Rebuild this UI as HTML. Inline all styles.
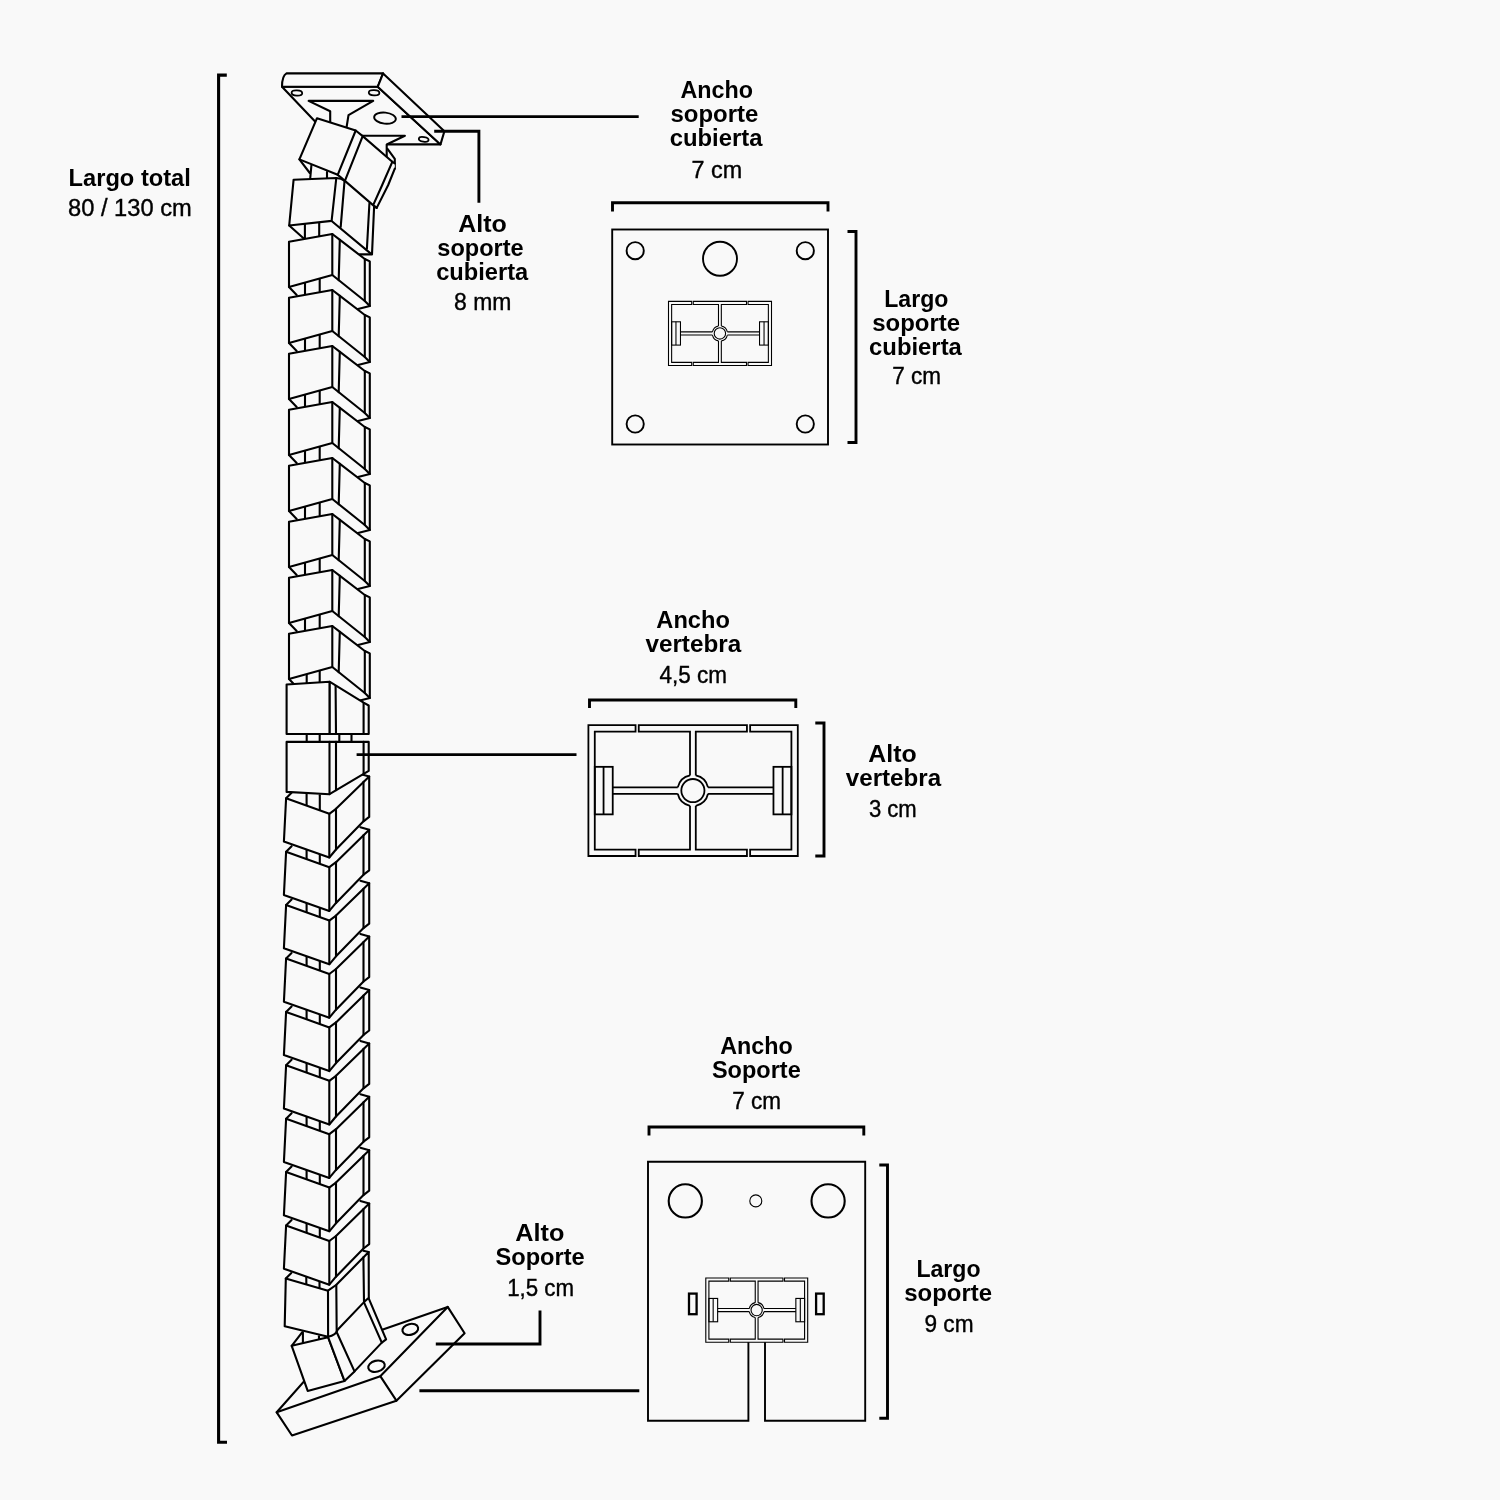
<!DOCTYPE html>
<html lang="es">
<head>
<meta charset="utf-8">
<title>Medidas organizador de cables</title>
<style>
html,body{margin:0;padding:0;background:#f9f9f9;}
body{width:1500px;height:1500px;overflow:hidden;font-family:"Liberation Sans",Arial,Helvetica,sans-serif;}
svg{display:block;position:absolute;left:0;top:0;}
#labels{filter:grayscale(1);}
</style>
</head>
<body>
<svg width="1500" height="1500" viewBox="0 0 1500 1500">
<rect width="1500" height="1500" fill="#f9f9f9"/>
<g id="chain" fill="none" stroke="#000" stroke-width="2.1" stroke-linejoin="round" stroke-linecap="round">
<g id="topplate">
<polygon points="282,86.8 377.7,86.8 440.5,144.4 337,144.4" fill="#f9f9f9"/>
<path d="M286.5,73.4 H383.1 L377.7,86.8 H282 C282,80 283.2,75.2 286.5,73.4 Z" fill="#f9f9f9"/>
<polygon points="383.1,73.4 444.4,131.2 440.5,144.4 377.7,86.8" fill="#f9f9f9"/>
<ellipse cx="296.9" cy="93" rx="5.3" ry="2.6" fill="#f9f9f9" stroke-width="1.8" transform="rotate(3 296.9 93)"/>
<ellipse cx="374.1" cy="92.8" rx="5.3" ry="2.6" fill="#f9f9f9" stroke-width="1.8" transform="rotate(3 374.1 92.8)"/>
<ellipse cx="385" cy="118.1" rx="10.9" ry="5.5" fill="#f9f9f9" stroke-width="1.9" transform="rotate(6 385 118.1)"/>
<ellipse cx="423.7" cy="139.3" rx="4.9" ry="2.3" fill="#f9f9f9" stroke-width="1.8" transform="rotate(9 423.7 139.3)"/>
<polyline points="330.2,122 330.2,111.3 308.6,100.9 373.2,100.9 348.5,115.1 346.6,127"/>
<polygon points="355,135.8 404.9,135.8 386.7,144.5 386.7,150 394.8,158.8 394.8,170 370,160" fill="#f9f9f9" stroke="none"/>
<polyline points="355,135.8 404.9,135.8 386.7,144.5 386.7,156.3"/>
<polyline points="387.5,148.9 394.8,158.8 394.8,168.6"/>
</g>
<g id="ta">
<polyline points="299.4,159.4 309.8,173"/>
<polyline points="311.4,165.4 310.2,178.5"/>
<polyline points="327,172 327,178"/>
<polygon points="355.7,130.5 362.7,136.1 392.3,161.8 394.8,163.3 394.8,168.6 388.2,185 376.7,207.9 344.9,180.9 337.7,174.8" fill="#f9f9f9" stroke="none"/>
<polyline points="355.7,130.5 362.7,136.1 392.3,161.8 394.8,163.3"/>
<polyline points="394.8,168.6 388.2,185 376.7,207.9 373.9,205.9"/>
<polyline points="392.3,161.8 382.2,185 373.4,204.6"/>
<polyline points="362.7,136.1 344.9,180.9"/>
<polygon points="317,118.2 355.7,130.5 337.7,174.8 299.4,159.4" fill="#f9f9f9"/>
</g>
<g id="tb">
<polyline points="289.2,225.5 303.5,238.3"/>
<polyline points="304.9,224.4 304.9,238"/>
<polyline points="319.2,222.2 319.2,236"/>
<polygon points="336.3,178 344.9,180.9 373.9,205.9 374.1,206.8 372,254.4 331.6,221" fill="#f9f9f9" stroke="none"/>
<path d="M337.7,174.8 Q341.5,177.6 344.9,180.9" fill="none"/>
<path d="M336.3,178 Q341,178 344.9,180.9 L373.9,205.9 L376.7,207.9" fill="none"/>
<polyline points="374.1,206.8 372,254.4 359.9,254.4"/>
<polyline points="369.4,203.5 366.9,248.8"/>
<polyline points="331.6,221 371.1,253.9"/>
<polyline points="344.5,181.3 340.7,226.9"/>
<polygon points="293.6,179.7 336.3,178 331.6,220.9 289.2,225.5" fill="#f9f9f9"/>
</g>
<g id="u0">
<polyline points="289,287 296.7,295"/>
<polyline points="305,283 305,294.7"/>
<polyline points="319.7,279 319.7,291.3"/>
<polygon points="332.3,234 364.8,259 369.8,261.4 369.8,306 332.3,275" fill="#f9f9f9" stroke="none"/>
<polyline points="332.3,234 339.6,239.7 364.8,259 369.8,261.4 369.8,306 358,309"/>
<polyline points="332.3,275 364.8,301 369.8,306"/>
<polyline points="364.8,259 364.8,301"/>
<polyline points="339.8,239.9 338.7,280.3"/>
<polygon points="289,241.7 332.3,234 332.3,275 289,287" fill="#f9f9f9"/>
</g>
<g id="u1">
<polyline points="289,343 296.7,351"/>
<polyline points="305,339 305,350.7"/>
<polyline points="319.7,335 319.7,347.3"/>
<polygon points="332.3,290 364.8,315 369.8,317.4 369.8,362 332.3,331" fill="#f9f9f9" stroke="none"/>
<polyline points="332.3,290 339.6,295.7 364.8,315 369.8,317.4 369.8,362 358,365"/>
<polyline points="332.3,331 364.8,357 369.8,362"/>
<polyline points="364.8,315 364.8,357"/>
<polyline points="339.8,295.9 338.7,336.3"/>
<polygon points="289,297.7 332.3,290 332.3,331 289,343" fill="#f9f9f9"/>
</g>
<g id="u2">
<polyline points="289,399 296.7,407"/>
<polyline points="305,395 305,406.7"/>
<polyline points="319.7,391 319.7,403.3"/>
<polygon points="332.3,346 364.8,371 369.8,373.4 369.8,418 332.3,387" fill="#f9f9f9" stroke="none"/>
<polyline points="332.3,346 339.6,351.7 364.8,371 369.8,373.4 369.8,418 358,421"/>
<polyline points="332.3,387 364.8,413 369.8,418"/>
<polyline points="364.8,371 364.8,413"/>
<polyline points="339.8,351.9 338.7,392.3"/>
<polygon points="289,353.7 332.3,346 332.3,387 289,399" fill="#f9f9f9"/>
</g>
<g id="u3">
<polyline points="289,455 296.7,463"/>
<polyline points="305,451 305,462.7"/>
<polyline points="319.7,447 319.7,459.3"/>
<polygon points="332.3,402 364.8,427 369.8,429.4 369.8,474 332.3,443" fill="#f9f9f9" stroke="none"/>
<polyline points="332.3,402 339.6,407.7 364.8,427 369.8,429.4 369.8,474 358,477"/>
<polyline points="332.3,443 364.8,469 369.8,474"/>
<polyline points="364.8,427 364.8,469"/>
<polyline points="339.8,407.9 338.7,448.3"/>
<polygon points="289,409.7 332.3,402 332.3,443 289,455" fill="#f9f9f9"/>
</g>
<g id="u4">
<polyline points="289,511 296.7,519"/>
<polyline points="305,507 305,518.7"/>
<polyline points="319.7,503 319.7,515.3"/>
<polygon points="332.3,458 364.8,483 369.8,485.4 369.8,530 332.3,499" fill="#f9f9f9" stroke="none"/>
<polyline points="332.3,458 339.6,463.7 364.8,483 369.8,485.4 369.8,530 358,533"/>
<polyline points="332.3,499 364.8,525 369.8,530"/>
<polyline points="364.8,483 364.8,525"/>
<polyline points="339.8,463.9 338.7,504.3"/>
<polygon points="289,465.7 332.3,458 332.3,499 289,511" fill="#f9f9f9"/>
</g>
<g id="u5">
<polyline points="289,567 296.7,575"/>
<polyline points="305,563 305,574.7"/>
<polyline points="319.7,559 319.7,571.3"/>
<polygon points="332.3,514 364.8,539 369.8,541.4 369.8,586 332.3,555" fill="#f9f9f9" stroke="none"/>
<polyline points="332.3,514 339.6,519.7 364.8,539 369.8,541.4 369.8,586 358,589"/>
<polyline points="332.3,555 364.8,581 369.8,586"/>
<polyline points="364.8,539 364.8,581"/>
<polyline points="339.8,519.9 338.7,560.3"/>
<polygon points="289,521.7 332.3,514 332.3,555 289,567" fill="#f9f9f9"/>
</g>
<g id="u6">
<polyline points="289,623 296.7,631"/>
<polyline points="305,619 305,630.7"/>
<polyline points="319.7,615 319.7,627.3"/>
<polygon points="332.3,570 364.8,595 369.8,597.4 369.8,642 332.3,611" fill="#f9f9f9" stroke="none"/>
<polyline points="332.3,570 339.6,575.7 364.8,595 369.8,597.4 369.8,642 358,645"/>
<polyline points="332.3,611 364.8,637 369.8,642"/>
<polyline points="364.8,595 364.8,637"/>
<polyline points="339.8,575.9 338.7,616.3"/>
<polygon points="289,577.7 332.3,570 332.3,611 289,623" fill="#f9f9f9"/>
</g>
<g id="u7">
<polyline points="289,679 296.7,687"/>
<polyline points="306.7,674.5 306.7,686.7"/>
<polyline points="319.7,671 319.7,683.3"/>
<polygon points="332.3,626 364.8,651 369.8,653.4 369.8,698 332.3,667" fill="#f9f9f9" stroke="none"/>
<polyline points="332.3,626 339.6,631.7 364.8,651 369.8,653.4 369.8,698 358,701"/>
<polyline points="332.3,667 364.8,693 369.8,698"/>
<polyline points="364.8,651 364.8,693"/>
<polyline points="339.8,631.9 338.7,672.3"/>
<polygon points="289,633.7 332.3,626 332.3,667 289,679" fill="#f9f9f9"/>
</g>
<g id="t1">
<polygon points="329.5,681.7 363.6,702.7 368.7,705.5 368.7,734 329.5,734" fill="#f9f9f9"/>
<polyline points="363.6,702.7 363.6,734"/>
<polyline points="335.6,686 336,734"/>
<polygon points="286.6,684.5 329.5,681.7 329.5,734 286.6,734" fill="#f9f9f9"/>
<polyline points="306.7,734 306.7,742"/>
<polyline points="319.7,734 319.7,742"/>
<polyline points="339.3,734 339.3,742"/>
<polyline points="351.5,734 351.5,742"/>
</g>
<g id="base" stroke-width="2.1">
<polygon points="276.7,1412.3 335.3,1346.1 447.7,1306.9 464.6,1333.3 396.4,1400.7 292,1435.5" fill="#f9f9f9"/>
<polyline points="276.7,1412.3 380.3,1376.2 447.7,1306.9"/>
<polyline points="380.3,1376.2 396.4,1400.7"/>
<ellipse cx="410.3" cy="1329.4" rx="8" ry="5.4" fill="#f9f9f9" transform="rotate(-14 410.3 1329.4)"/>
<ellipse cx="376.5" cy="1366.2" rx="8.4" ry="5.5" fill="#f9f9f9" transform="rotate(-14 376.5 1366.2)"/>
</g>
<g id="b">
<polygon points="291.7,1345.8 302.1,1332.4 340,1322 328.1,1337.2" fill="#f9f9f9" stroke="none"/>
<polyline points="291.7,1345.8 302.1,1332.4"/>
<polyline points="302.9,1332.4 302.9,1343.2"/>
<polyline points="319,1336.3 319,1339.5"/>
<polygon points="337.2,1333.3 364,1302.5 368.4,1299 386.1,1339.3 381.8,1342.6 354.5,1371.4" fill="#f9f9f9" stroke="none"/>
<polyline points="368.6,1298.2 386.1,1339.3 381.8,1342.6 354.5,1371.4"/>
<polyline points="364,1302.3 381.8,1342.6"/>
<polygon points="291.7,1345.8 328.1,1337.2 344.5,1380.9 307.7,1390.9" fill="#f9f9f9"/>
<polygon points="328.1,1337.2 337.2,1333.3 354.5,1371.4 344.5,1380.9" fill="#f9f9f9" stroke="none"/>
<polyline points="328.1,1337.2 344.5,1380.9 354.5,1371.4 337.2,1333.3"/>
</g>
<g id="l9">
<polygon points="285.8,1278.5 291.3,1273 329.2,1280.5 363.3,1250.7 368.7,1252 336.1,1285 328,1290.7" fill="#f9f9f9" stroke="none"/>
<polyline points="285.8,1278.5 291.3,1273"/>
<polyline points="363.3,1250.7 368.7,1252"/>
<polyline points="306.3,1272.5 306.3,1284.5"/>
<polyline points="319.5,1275.5 319.5,1288.3"/>
<polygon points="285.8,1278.5 328,1290.7 336.1,1285 368.7,1252 368.8,1297.7 364,1302.1 337.6,1329.8 335.8,1335.1 328.1,1336.7 284.7,1326.3" fill="#f9f9f9" stroke="none"/>
<path d="M285.8,1278.5 L328,1290.7 L336.1,1285 L368.7,1252 L368.8,1297.7 L364,1302.1 L337.6,1329.8 Q335.8,1335.1 328.1,1336.7 L284.7,1326.3 Z" fill="none"/>
<polyline points="328,1290.7 328.1,1336.7"/>
<polyline points="336.3,1285 336.7,1333"/>
<polyline points="363.4,1257.3 364,1302.1"/>
</g>
<g id="l8">
<polygon points="286.1,1225.5 291.6,1220 329.5,1227.5 360.4,1201.1 369.2,1203.6 336,1236 329.3,1241" fill="#f9f9f9" stroke="none"/>
<polyline points="286.1,1225.5 291.6,1220"/>
<polyline points="360.4,1201.1 369.2,1203.6"/>
<polyline points="306.6,1219.5 306.6,1232.9"/>
<polyline points="319.8,1222.5 319.8,1237.7"/>
<polygon points="286.1,1225.5 329.3,1241 336,1236 369.2,1203.6 369.2,1244.1 363.5,1248.5 336,1276.7 329.3,1284.7 283.9,1268.7" fill="#f9f9f9"/>
<polyline points="329.3,1241 329.3,1284.7"/>
<polyline points="336,1236 336,1276.7"/>
<polyline points="363.5,1209.1 363.5,1248.5"/>
</g>
<g id="l7">
<polygon points="286.1,1172.1 291.6,1166.6 329.5,1174.1 360.4,1147.7 369.2,1150.2 336,1182.6 329.3,1187.6" fill="#f9f9f9" stroke="none"/>
<polyline points="286.1,1172.1 291.6,1166.6"/>
<polyline points="360.4,1147.7 369.2,1150.2"/>
<polyline points="306.6,1166.1 306.6,1179.5"/>
<polyline points="319.8,1169.1 319.8,1184.3"/>
<polygon points="286.1,1172.1 329.3,1187.6 336,1182.6 369.2,1150.2 369.2,1190.7 363.5,1195.1 336,1223.3 329.3,1231.3 283.9,1215.3" fill="#f9f9f9"/>
<polyline points="329.3,1187.6 329.3,1231.3"/>
<polyline points="336,1182.6 336,1223.3"/>
<polyline points="363.5,1155.7 363.5,1195.1"/>
</g>
<g id="l6">
<polygon points="286.1,1118.7 291.6,1113.2 329.5,1120.7 360.4,1094.3 369.2,1096.8 336,1129.2 329.3,1134.2" fill="#f9f9f9" stroke="none"/>
<polyline points="286.1,1118.7 291.6,1113.2"/>
<polyline points="360.4,1094.3 369.2,1096.8"/>
<polyline points="306.6,1112.7 306.6,1126.1"/>
<polyline points="319.8,1115.7 319.8,1130.9"/>
<polygon points="286.1,1118.7 329.3,1134.2 336,1129.2 369.2,1096.8 369.2,1137.3 363.5,1141.7 336,1169.9 329.3,1177.9 283.9,1161.9" fill="#f9f9f9"/>
<polyline points="329.3,1134.2 329.3,1177.9"/>
<polyline points="336,1129.2 336,1169.9"/>
<polyline points="363.5,1102.3 363.5,1141.7"/>
</g>
<g id="l5">
<polygon points="286.1,1065.3 291.6,1059.8 329.5,1067.3 360.4,1040.9 369.2,1043.4 336,1075.8 329.3,1080.8" fill="#f9f9f9" stroke="none"/>
<polyline points="286.1,1065.3 291.6,1059.8"/>
<polyline points="360.4,1040.9 369.2,1043.4"/>
<polyline points="306.6,1059.3 306.6,1072.7"/>
<polyline points="319.8,1062.3 319.8,1077.5"/>
<polygon points="286.1,1065.3 329.3,1080.8 336,1075.8 369.2,1043.4 369.2,1083.9 363.5,1088.3 336,1116.5 329.3,1124.5 283.9,1108.5" fill="#f9f9f9"/>
<polyline points="329.3,1080.8 329.3,1124.5"/>
<polyline points="336,1075.8 336,1116.5"/>
<polyline points="363.5,1048.9 363.5,1088.3"/>
</g>
<g id="l4">
<polygon points="286.1,1011.9 291.6,1006.4 329.5,1013.9 360.4,987.5 369.2,990 336,1022.4 329.3,1027.4" fill="#f9f9f9" stroke="none"/>
<polyline points="286.1,1011.9 291.6,1006.4"/>
<polyline points="360.4,987.5 369.2,990"/>
<polyline points="306.6,1005.9 306.6,1019.3"/>
<polyline points="319.8,1008.9 319.8,1024.1"/>
<polygon points="286.1,1011.9 329.3,1027.4 336,1022.4 369.2,990 369.2,1030.5 363.5,1034.9 336,1063.1 329.3,1071.1 283.9,1055.1" fill="#f9f9f9"/>
<polyline points="329.3,1027.4 329.3,1071.1"/>
<polyline points="336,1022.4 336,1063.1"/>
<polyline points="363.5,995.5 363.5,1034.9"/>
</g>
<g id="l3">
<polygon points="286.1,958.5 291.6,953 329.5,960.5 360.4,934.1 369.2,936.6 336,969 329.3,974" fill="#f9f9f9" stroke="none"/>
<polyline points="286.1,958.5 291.6,953"/>
<polyline points="360.4,934.1 369.2,936.6"/>
<polyline points="306.6,952.5 306.6,965.9"/>
<polyline points="319.8,955.5 319.8,970.7"/>
<polygon points="286.1,958.5 329.3,974 336,969 369.2,936.6 369.2,977.1 363.5,981.5 336,1009.7 329.3,1017.7 283.9,1001.7" fill="#f9f9f9"/>
<polyline points="329.3,974 329.3,1017.7"/>
<polyline points="336,969 336,1009.7"/>
<polyline points="363.5,942.1 363.5,981.5"/>
</g>
<g id="l2">
<polygon points="286.1,905.1 291.6,899.6 329.5,907.1 360.4,880.7 369.2,883.2 336,915.6 329.3,920.6" fill="#f9f9f9" stroke="none"/>
<polyline points="286.1,905.1 291.6,899.6"/>
<polyline points="360.4,880.7 369.2,883.2"/>
<polyline points="306.6,899.1 306.6,912.5"/>
<polyline points="319.8,902.1 319.8,917.3"/>
<polygon points="286.1,905.1 329.3,920.6 336,915.6 369.2,883.2 369.2,923.7 363.5,928.1 336,956.3 329.3,964.3 283.9,948.3" fill="#f9f9f9"/>
<polyline points="329.3,920.6 329.3,964.3"/>
<polyline points="336,915.6 336,956.3"/>
<polyline points="363.5,888.7 363.5,928.1"/>
</g>
<g id="l1">
<polygon points="286.1,851.7 291.6,846.2 329.5,853.7 360.4,827.3 369.2,829.8 336,862.2 329.3,867.2" fill="#f9f9f9" stroke="none"/>
<polyline points="286.1,851.7 291.6,846.2"/>
<polyline points="360.4,827.3 369.2,829.8"/>
<polyline points="306.6,845.7 306.6,859.1"/>
<polyline points="319.8,848.7 319.8,863.9"/>
<polygon points="286.1,851.7 329.3,867.2 336,862.2 369.2,829.8 369.2,870.3 363.5,874.7 336,902.9 329.3,910.9 283.9,894.9" fill="#f9f9f9"/>
<polyline points="329.3,867.2 329.3,910.9"/>
<polyline points="336,862.2 336,902.9"/>
<polyline points="363.5,835.3 363.5,874.7"/>
</g>
<g id="l0">
<polygon points="286.1,798.3 291.6,792.8 329.5,800.3 360.4,773.9 369.2,776.4 336,808.8 329.3,813.8" fill="#f9f9f9" stroke="none"/>
<polyline points="286.1,798.3 291.6,792.8"/>
<polyline points="360.4,773.9 369.2,776.4"/>
<polyline points="306.6,792.3 306.6,805.7"/>
<polyline points="319.8,795.3 319.8,810.5"/>
<polygon points="286.1,798.3 329.3,813.8 336,808.8 369.2,776.4 369.2,816.9 363.5,821.3 336,849.5 329.3,857.5 283.9,841.5" fill="#f9f9f9"/>
<polyline points="329.3,813.8 329.3,857.5"/>
<polyline points="336,808.8 336,849.5"/>
<polyline points="363.5,781.9 363.5,821.3"/>
</g>
<g id="t2">
<polygon points="286.6,741.9 368.7,741.9 368.7,770.9 329.5,794.2 286.6,791.9" fill="#f9f9f9"/>
<polyline points="329.5,741.9 329.5,794.2"/>
<polyline points="336,741.9 336,790.3"/>
<polyline points="363.6,741.9 363.6,774"/>
</g>
</g>
<g id="dims" fill="none" stroke="#000" stroke-width="2.9">
<path d="M226.8,75.1 H218.6 V1442.3 H227" fill="none" stroke-width="3.1"/>
<path d="M401.5,116.6 H638.7" fill="none"/>
<path d="M434.2,131.3 H478.9 V202.7" fill="none"/>
<path d="M612.5,211.5 V202.8 H828 V211.5" fill="none"/>
<path d="M847.5,231.5 H856 V442.5 H847.5" fill="none"/>
<path d="M356.6,754.6 H576.5" fill="none"/>
<path d="M589.5,708 V700 H795.8 V708" fill="none"/>
<path d="M815.3,723 H824 V856 H815.3" fill="none"/>
<path d="M435.8,1344 H540 V1310.4" fill="none"/>
<path d="M419.4,1390.8 H639.3" fill="none"/>
<path d="M649,1135.5 V1127 H863.8 V1135.5" fill="none"/>
<path d="M879.3,1165 H887.5 V1418.2 H879.3" fill="none"/>
</g>
<g id="details" fill="none" stroke="#000" stroke-width="1.9">
<rect x="612.2" y="229.5" width="215.8" height="215"/>
<circle cx="635.2" cy="250.7" r="8.6"/>
<circle cx="805.3" cy="250.7" r="8.6"/>
<circle cx="635.2" cy="424" r="8.6"/>
<circle cx="805.3" cy="424" r="8.6"/>
<circle cx="720" cy="258.7" r="17"/>
<path d="M648,1161.8 H865.2 V1420.8 H765 V1342 M748.4,1342 V1420.8 H648 V1160.85"/>
<circle cx="685.3" cy="1200.9" r="16.6" stroke-width="2.1"/>
<circle cx="828.1" cy="1200.9" r="16.6" stroke-width="2.1"/>
<circle cx="755.8" cy="1200.9" r="6" stroke-width="1.1"/>
<rect x="689" y="1293.6" width="7.6" height="20.6" stroke-width="2.3"/>
<rect x="816.1" y="1293.6" width="7.6" height="20.6" stroke-width="2.3"/>
</g>
<g transform="translate(588.4 725.2) scale(0.9971 0.9985)" fill="none" stroke="#000" stroke-width="1.8" stroke-linejoin="miter">
<rect x="0" y="0" width="210" height="131" fill="#f9f9f9" stroke="none"/>
<path d="M47.3,0 H0 V131 H47.3 V124.6 H6.4 V6.4 H47.3 Z"/>
<path d="M162.2,0 H210 V131 H162.2 V124.6 H203.6 V6.4 H162.2 Z"/>
<path d="M107.7,50.3 V6.4 H159 V0 H50.5 V6.4 H101.9 V50.3"/>
<path d="M107.7,80.7 V124.6 H159 V131 H50.5 V124.6 H101.9 V80.7"/>
<path d="M24.4,62.3 H89.6 M24.4,68.7 H89.6 M120,62.3 H185.6 M120,68.7 H185.6"/>
<path d="M101.9,50.3 A16,16 0 0 0 89.6,62.3 M107.7,50.3 A16,16 0 0 1 120,62.3 M89.6,68.7 A16,16 0 0 0 101.9,80.7 M120,68.7 A16,16 0 0 1 107.7,80.7"/>
<circle cx="104.8" cy="65.5" r="11.6"/>
<rect x="6.4" y="41.7" width="18" height="47.6"/><path d="M15.2,41.7 V89.3"/>
<rect x="185.6" y="41.7" width="18" height="47.6"/><path d="M194.8,41.7 V89.3"/>
</g>
<g transform="translate(668.5 301.4) scale(0.4905 0.4893)" fill="none" stroke="#000" stroke-width="2.2" stroke-linejoin="miter">
<rect x="0" y="0" width="210" height="131" fill="#f9f9f9" stroke="none"/>
<path d="M47.3,0 H0 V131 H47.3 V124.6 H6.4 V6.4 H47.3 Z"/>
<path d="M162.2,0 H210 V131 H162.2 V124.6 H203.6 V6.4 H162.2 Z"/>
<path d="M107.7,50.3 V6.4 H159 V0 H50.5 V6.4 H101.9 V50.3"/>
<path d="M107.7,80.7 V124.6 H159 V131 H50.5 V124.6 H101.9 V80.7"/>
<path d="M24.4,62.3 H89.6 M24.4,68.7 H89.6 M120,62.3 H185.6 M120,68.7 H185.6"/>
<path d="M101.9,50.3 A16,16 0 0 0 89.6,62.3 M107.7,50.3 A16,16 0 0 1 120,62.3 M89.6,68.7 A16,16 0 0 0 101.9,80.7 M120,68.7 A16,16 0 0 1 107.7,80.7"/>
<circle cx="104.8" cy="65.5" r="11.6"/>
<rect x="6.4" y="41.7" width="18" height="47.6"/><path d="M15.2,41.7 V89.3"/>
<rect x="185.6" y="41.7" width="18" height="47.6"/><path d="M194.8,41.7 V89.3"/>
</g>
<g transform="translate(705.8 1278) scale(0.4852 0.4901)" fill="none" stroke="#000" stroke-width="2.3" stroke-linejoin="miter">
<rect x="0" y="0" width="210" height="131" fill="#f9f9f9" stroke="none"/>
<path d="M47.3,0 H0 V131 H47.3 V124.6 H6.4 V6.4 H47.3 Z"/>
<path d="M162.2,0 H210 V131 H162.2 V124.6 H203.6 V6.4 H162.2 Z"/>
<path d="M107.7,50.3 V6.4 H159 V0 H50.5 V6.4 H101.9 V50.3"/>
<path d="M107.7,80.7 V124.6 H159 V131 H50.5 V124.6 H101.9 V80.7"/>
<path d="M24.4,62.3 H89.6 M24.4,68.7 H89.6 M120,62.3 H185.6 M120,68.7 H185.6"/>
<path d="M101.9,50.3 A16,16 0 0 0 89.6,62.3 M107.7,50.3 A16,16 0 0 1 120,62.3 M89.6,68.7 A16,16 0 0 0 101.9,80.7 M120,68.7 A16,16 0 0 1 107.7,80.7"/>
<circle cx="104.8" cy="65.5" r="11.6"/>
<rect x="6.4" y="41.7" width="18" height="47.6"/><path d="M15.2,41.7 V89.3"/>
<rect x="185.6" y="41.7" width="18" height="47.6"/><path d="M194.8,41.7 V89.3"/>
</g>
<g id="labels" fill="#000" font-family="&quot;Liberation Sans&quot;, Arial, Helvetica, sans-serif">
<text x="68.56" y="185.7" textLength="122.33" lengthAdjust="spacingAndGlyphs" font-size="24.6" font-weight="700">Largo total</text>
<text x="67.98" y="215.8" textLength="123.80" lengthAdjust="spacingAndGlyphs" font-size="24.8" stroke="#000" stroke-width="0.4">80 / 130 cm</text>
<text x="458.28" y="232.3" textLength="48.55" lengthAdjust="spacingAndGlyphs" font-size="24.6" font-weight="700">Alto</text>
<text x="437.34" y="256.3" textLength="86.28" lengthAdjust="spacingAndGlyphs" font-size="24.6" font-weight="700">soporte</text>
<text x="436.19" y="280.3" textLength="92.01" lengthAdjust="spacingAndGlyphs" font-size="24.6" font-weight="700">cubierta</text>
<text x="454.05" y="310.3" textLength="57.37" lengthAdjust="spacingAndGlyphs" font-size="24.8" stroke="#000" stroke-width="0.4">8 mm</text>
<text x="680.54" y="98.3" textLength="72.53" lengthAdjust="spacingAndGlyphs" font-size="24.6" font-weight="700">Ancho</text>
<text x="670.48" y="122.3" textLength="87.79" lengthAdjust="spacingAndGlyphs" font-size="24.6" font-weight="700">soporte</text>
<text x="669.69" y="146.3" textLength="92.76" lengthAdjust="spacingAndGlyphs" font-size="24.6" font-weight="700">cubierta</text>
<text x="691.57" y="177.8" textLength="50.67" lengthAdjust="spacingAndGlyphs" font-size="24.8" stroke="#000" stroke-width="0.4">7 cm</text>
<text x="884.24" y="306.9" textLength="64.10" lengthAdjust="spacingAndGlyphs" font-size="24.6" font-weight="700">Largo</text>
<text x="872.28" y="330.9" textLength="87.79" lengthAdjust="spacingAndGlyphs" font-size="24.6" font-weight="700">soporte</text>
<text x="869.09" y="354.9" textLength="92.76" lengthAdjust="spacingAndGlyphs" font-size="24.6" font-weight="700">cubierta</text>
<text x="892.24" y="384.2" textLength="48.89" lengthAdjust="spacingAndGlyphs" font-size="24.8" stroke="#000" stroke-width="0.4">7 cm</text>
<text x="656.34" y="628.4" textLength="73.54" lengthAdjust="spacingAndGlyphs" font-size="24.6" font-weight="700">Ancho</text>
<text x="645.45" y="652.4" textLength="95.75" lengthAdjust="spacingAndGlyphs" font-size="24.6" font-weight="700">vertebra</text>
<text x="659.39" y="683.3" textLength="67.56" lengthAdjust="spacingAndGlyphs" font-size="24.8" stroke="#000" stroke-width="0.4">4,5 cm</text>
<text x="868.37" y="761.8" textLength="48.31" lengthAdjust="spacingAndGlyphs" font-size="24.6" font-weight="700">Alto</text>
<text x="845.85" y="785.8" textLength="95.25" lengthAdjust="spacingAndGlyphs" font-size="24.6" font-weight="700">vertebra</text>
<text x="868.91" y="816.5" textLength="47.85" lengthAdjust="spacingAndGlyphs" font-size="24.8" stroke="#000" stroke-width="0.4">3 cm</text>
<text x="720.14" y="1053.8" textLength="72.53" lengthAdjust="spacingAndGlyphs" font-size="24.6" font-weight="700">Ancho</text>
<text x="711.94" y="1077.8" textLength="88.78" lengthAdjust="spacingAndGlyphs" font-size="24.6" font-weight="700">Soporte</text>
<text x="732.24" y="1108.8" textLength="48.89" lengthAdjust="spacingAndGlyphs" font-size="24.8" stroke="#000" stroke-width="0.4">7 cm</text>
<text x="515.37" y="1240.8" textLength="49.06" lengthAdjust="spacingAndGlyphs" font-size="24.6" font-weight="700">Alto</text>
<text x="495.44" y="1264.8" textLength="89.28" lengthAdjust="spacingAndGlyphs" font-size="24.6" font-weight="700">Soporte</text>
<text x="507.17" y="1296.2" textLength="66.90" lengthAdjust="spacingAndGlyphs" font-size="24.8" stroke="#000" stroke-width="0.4">1,5 cm</text>
<text x="916.44" y="1276.8" textLength="64.10" lengthAdjust="spacingAndGlyphs" font-size="24.6" font-weight="700">Largo</text>
<text x="904.28" y="1300.8" textLength="87.79" lengthAdjust="spacingAndGlyphs" font-size="24.6" font-weight="700">soporte</text>
<text x="924.45" y="1331.7" textLength="49.13" lengthAdjust="spacingAndGlyphs" font-size="24.8" stroke="#000" stroke-width="0.4">9 cm</text>
</g>
</svg>
</body>
</html>
